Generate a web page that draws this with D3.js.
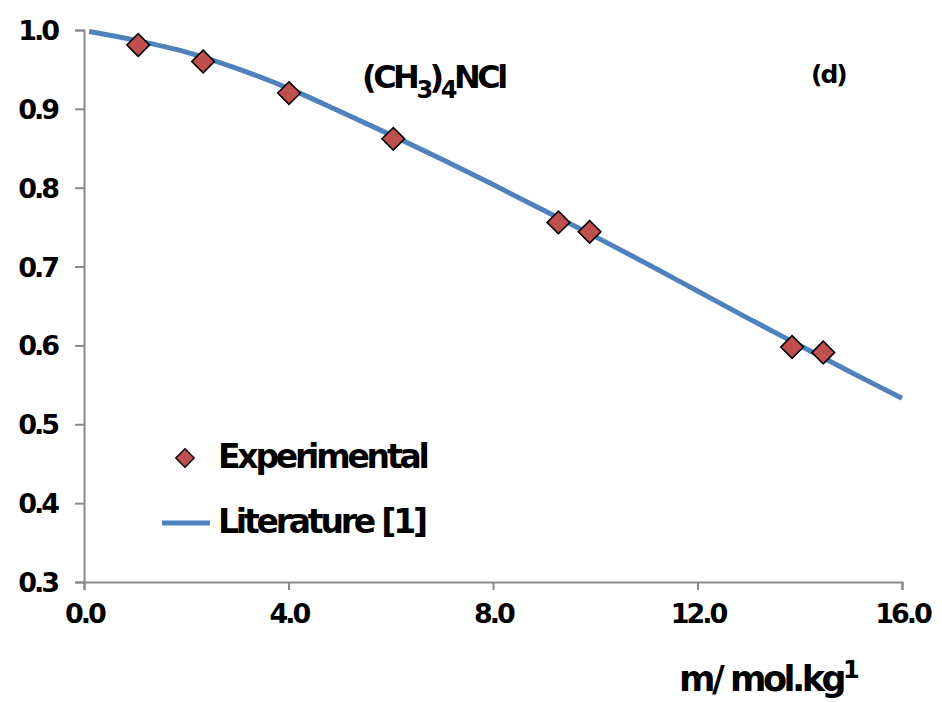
<!DOCTYPE html>
<html><head><meta charset="utf-8">
<script src="https://cdn.jsdelivr.net/npm/d3@7"></script>
<style>
body{margin:0;background:#fff;}
text{font-family:"DejaVu Sans",Verdana,sans-serif;font-weight:bold;fill:#000;}
</style></head>
<body><svg id="c" width="942" height="702"></svg>
<script>
const litX = [0.1, 1, 2, 3, 4, 5, 6, 7, 8, 9, 10, 11, 12, 13, 14, 15, 16];
const litY = [0.998, 0.987, 0.972, 0.951, 0.926, 0.897, 0.867, 0.836, 0.804, 0.771, 0.738, 0.704, 0.669, 0.634, 0.600, 0.566, 0.533];
const expX = [1.06, 2.33, 4.01, 6.05, 9.28, 9.89, 13.85, 14.46];
const expY = [0.981, 0.960, 0.920, 0.862, 0.756, 0.744, 0.598, 0.591];
const xTicks = [0, 4, 8, 12, 16];
const yTicks = [0.3, 0.4, 0.5, 0.6, 0.7, 0.8, 0.9, 1.0];
const seriesNames = ["Experimental", "Literature [1]"];

const svg = d3.select("#c");
const x = d3.scaleLinear().domain([0, 16]).range([84, 902]);
const y = d3.scaleLinear().domain([0.3, 1.0]).range([582, 30]);

const ax = "#898989";
const xAxis = svg.append("g").attr("transform", "translate(0,582)")
  .call(d3.axisBottom(x).tickValues(xTicks).tickSize(8).tickPadding(14).tickFormat(d3.format(".1f")));
const yAxis = svg.append("g").attr("transform", "translate(84,0)")
  .call(d3.axisLeft(y).tickValues(yTicks).tickSize(9).tickPadding(18).tickFormat(d3.format(".1f")));
[xAxis, yAxis].forEach(g => {
  g.select(".domain").attr("stroke", ax).attr("stroke-width", 2);
  g.selectAll(".tick line").attr("stroke", ax).attr("stroke-width", 2);
  g.selectAll("text").style("font-size", "27px").style("letter-spacing", "-3px")
   .style("font-family", '"DejaVu Sans",sans-serif').style("font-weight", "bold").attr("fill", "#000");
});
xAxis.selectAll("text").attr("dy", "0.71em");
yAxis.selectAll("text").attr("dy", "0.35em");

const line = d3.line().x((d, i) => x(litX[i])).y(d => y(d)).curve(d3.curveCatmullRom);
svg.append("path").datum(litY).attr("d", line).attr("fill", "none")
  .attr("stroke", "#4F81BD").attr("stroke-width", 5);

svg.selectAll(".pt").data(expX).enter().append("rect")
  .attr("x", -8).attr("y", -8).attr("width", 16).attr("height", 16)
  .attr("transform", (d, i) => `translate(${x(d)},${y(expY[i])}) rotate(45)`)
  .attr("fill", "#C0504D").attr("stroke", "#000").attr("stroke-width", 1.6);

// title
const t = svg.append("text").attr("x", 362).attr("y", 88).style("font-size", "32px").style("letter-spacing", "-3.5px");
t.append("tspan").text("(CH");
t.append("tspan").text("3").style("font-size", "24px").attr("dy", 10);
t.append("tspan").text(")").attr("dy", -10);
t.append("tspan").text("4").style("font-size", "24px").attr("dy", 10);
t.append("tspan").text("NCl").attr("dy", -10);
svg.append("text").attr("x", 811).attr("y", 83).style("font-size", "25px").style("letter-spacing", "-2px").text("(d)");

// legend
svg.append("rect").attr("x", -6.5).attr("y", -6.5).attr("width", 13).attr("height", 13)
  .attr("transform", "translate(185,458) rotate(45)")
  .attr("fill", "#C0504D").attr("stroke", "#000").attr("stroke-width", 1.4);
svg.append("line").attr("x1", 162).attr("x2", 210).attr("y1", 523).attr("y2", 523)
  .attr("stroke", "#4F81BD").attr("stroke-width", 5);
svg.append("text").attr("x", 218).attr("y", 468).style("font-size", "33px").style("letter-spacing", "-3.2px").text(seriesNames[0]);
svg.append("text").attr("x", 218).attr("y", 533).style("font-size", "33px").style("letter-spacing", "-3.2px").text(seriesNames[1]);

// axis title
const at = svg.append("text").attr("x", 679).attr("y", 691).style("font-size", "35px").style("letter-spacing", "-3.5px");
at.append("tspan").text("m/ mol.kg");
at.append("tspan").text("1").style("font-size", "24px").attr("dy", -13);
</script></body></html>
